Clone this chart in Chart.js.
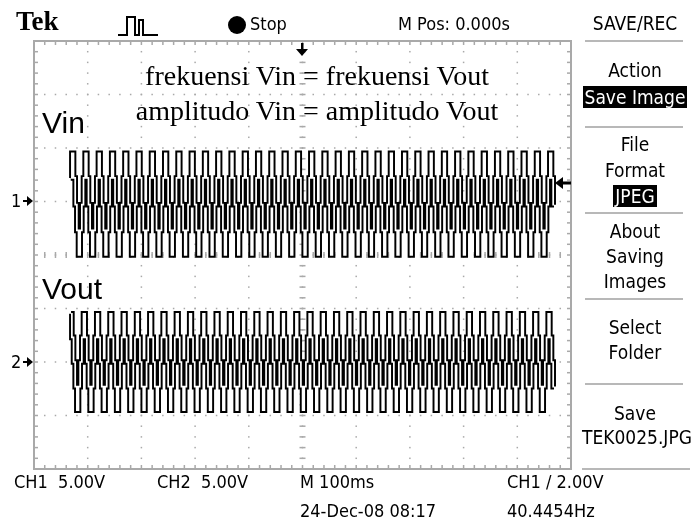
<!DOCTYPE html>
<html>
<head>
<meta charset="utf-8">
<script src="https://cdn.jsdelivr.net/npm/chart.js@4.4.1/dist/chart.umd.min.js"></script>
<style>
    html, body { margin: 0; padding: 0; background: #fff; }
    #scope { position: relative; width: 693px; height: 522px; overflow: hidden; color: #000;
             font-family: "DejaVu Sans Condensed", "Liberation Sans", sans-serif; }
    #scope canvas, #scope svg { position: absolute; left: 0; top: 0; }
    .t { position: absolute; white-space: pre; font-size: 18px; line-height: 22px; }
    .m { position: absolute; left: 582px; width: 106px; text-align: center; font-size: 19px; line-height: 22px; white-space: pre; }
    .inv { display: inline-block; background: #000; color: #fff; padding: 0 2px; }
    .sep { position: absolute; left: 585px; width: 98px; height: 0; border-top: 2px solid #b8b8b8; }
    .note { position: absolute; left: 0; width: 634px; text-align: center; white-space: pre;
            font-family: "Liberation Serif", "Times New Roman", serif; font-size: 28px; line-height: 28px; }
    .lbl { position: absolute; left: 42px; font-family: "Liberation Sans", Arial, sans-serif; font-size: 30px; line-height: 30px; }
</style>
</head>
<body>
<div id="scope">
    <canvas id="scopeChart" width="693" height="522"></canvas>

    <svg width="693" height="522">
        <!-- acquisition icon -->
        <polyline points="118,35 127,35 127,17 135,17 135,35 139,35 139,20 143,20 143,35 158,35"
                  fill="none" stroke="#000" stroke-width="2"/>
        <circle cx="237" cy="25" r="9" fill="#000"/>
        <!-- trigger position marker -->
        <rect x="301" y="43" width="2.5" height="7" fill="#000"/>
        <polygon points="296,49 308,49 302,56" fill="#000"/>
        <!-- trigger level marker -->
        <polygon points="555,183 563,177 563,189" fill="#000"/>
        <rect x="562" y="181.5" width="9" height="3" fill="#000"/>
        <!-- channel ground markers -->
        <rect x="23" y="200" width="9" height="2" fill="#000"/>
        <polygon points="27,196 33,201 27,206" fill="#000"/>
        <rect x="23" y="361" width="9" height="2" fill="#000"/>
        <polygon points="27,357 33,362 27,367" fill="#000"/>
    </svg>

    <div class="t" style="left:16px; top:6px; font-family:'Liberation Serif',serif; font-weight:bold; font-size:27px; line-height:30px;">Tek</div>
    <div class="t" style="left:250px; top:13px;">Stop</div>
    <div class="t" style="left:398px; top:13px;">M Pos: 0.000s</div>

    <div class="note" style="top:62px;">frekuensi Vin = frekuensi Vout</div>
    <div class="note" style="top:97px;">amplitudo Vin = amplitudo Vout</div>
    <div class="lbl" style="top:108px;">Vin</div>
    <div class="lbl" style="top:274px;">Vout</div>

    <div class="t" style="left:11px; top:190px;">1</div>
    <div class="t" style="left:11px; top:351px;">2</div>

    <div class="m" style="top:12px;">SAVE/REC</div>
    <div class="sep" style="top:40px;"></div>
    <div class="m" style="top:59px;">Action</div>
    <div class="m" style="top:86px;"><span class="inv">Save Image</span></div>
    <div class="sep" style="top:126px;"></div>
    <div class="m" style="top:133px;">File</div>
    <div class="m" style="top:159px;">Format</div>
    <div class="m" style="top:185px;"><span class="inv">JPEG</span></div>
    <div class="sep" style="top:212px;"></div>
    <div class="m" style="top:220px;">About</div>
    <div class="m" style="top:245px;">Saving</div>
    <div class="m" style="top:270px;">Images</div>
    <div class="sep" style="top:298px;"></div>
    <div class="m" style="top:316px;">Select</div>
    <div class="m" style="top:341px;">Folder</div>
    <div class="sep" style="top:383px;"></div>
    <div class="m" style="top:402px;">Save</div>
    <div class="m" style="top:426px;">TEK0025.JPG</div>
    <div class="sep" style="top:468px; left:582px; width:108px;"></div>

    <div class="t" style="left:14px; top:471px;">CH1  5.00V</div>
    <div class="t" style="left:157px; top:471px;">CH2  5.00V</div>
    <div class="t" style="left:300px; top:471px;">M 100ms</div>
    <div class="t" style="left:507px; top:471px;">CH1 / 2.00V</div>
    <div class="t" style="left:300px; top:500px;">24-Dec-08 08:17</div>
    <div class="t" style="left:507px; top:500px;">40.4454Hz</div>
</div>

<script>
// --- scope settings ---
const timePerDivMs = 100;        // M 100ms
const voltsPerDiv = 5;           // CH1 5.00V, CH2 5.00V
const signalHz = 40.4454;
const ch1GroundDiv = 1;          // "1" marker
const ch2GroundDiv = -2;         // "2" marker
const traceStartMs = -431;
const traceEndMs = 470;

// one cycle of the stepped waveform, in volts (8 steps per cycle)
const vinCycle = [4.5, 2.2, -0.3, -2.7, -5.0, -2.7, -0.3, 2.2];
const voutCycle = [4.5, 2.3, 0.0, -2.3, -4.5, -2.3, 0.0, 2.3];
const vinPhase = 7;
const voutPhase = 0;

const gridColor = '#a9a9a9';

document.addEventListener('DOMContentLoaded', function () {

    const stepMs = 1000 / signalHz / vinCycle.length;
    const sampleCount = Math.floor((traceEndMs - traceStartMs) / stepMs) + 1;

    const buildTrace = (cycle, phase, groundDiv) => {
        const pts = [];
        for (let i = 0; i < sampleCount; i++) {
            pts.push({
                x: traceStartMs + i * stepMs,
                y: groundDiv + cycle[(i + phase) % cycle.length] / voltsPerDiv
            });
        }
        return pts;
    };

    const vinTrace = buildTrace(vinCycle, vinPhase, ch1GroundDiv);
    const voutTrace = buildTrace(voutCycle, voutPhase, ch2GroundDiv);

    // --- graticule: dotted divisions, center ticks, border ticks ---
    const graticule = {
        id: 'graticule',
        beforeDatasetsDraw(chart) {
            const { ctx, chartArea: a, scales: { x, y } } = chart;
            ctx.save();
            ctx.fillStyle = gridColor;

            const minorX = [];
            for (let v = -5 * timePerDivMs; v <= 5 * timePerDivMs + 0.01; v += timePerDivMs / 5) minorX.push(v);
            const minorY = [];
            for (let v = -4; v <= 4.001; v += 0.2) minorY.push(v);

            // dots on every division line
            for (let k = -4; k <= 4; k++) {
                const px = x.getPixelForValue(k * timePerDivMs);
                minorY.forEach(v => ctx.fillRect(px - 0.75, y.getPixelForValue(v) - 0.75, 1.5, 1.5));
            }
            for (let k = -3; k <= 3; k++) {
                const py = y.getPixelForValue(k);
                minorX.forEach(v => ctx.fillRect(x.getPixelForValue(v) - 0.75, py - 0.75, 1.5, 1.5));
            }

            // center crosshair ticks
            const cx = x.getPixelForValue(0);
            const cy = y.getPixelForValue(0);
            minorY.forEach(v => ctx.fillRect(cx - 3, y.getPixelForValue(v) - 0.75, 6, 1.5));
            minorX.forEach(v => ctx.fillRect(x.getPixelForValue(v) - 0.75, cy - 3, 1.5, 6));

            // border ticks
            minorX.forEach(v => {
                const px = x.getPixelForValue(v);
                ctx.fillRect(px - 0.75, a.top, 1.5, 4);
                ctx.fillRect(px - 0.75, a.bottom - 4, 1.5, 4);
            });
            minorY.forEach(v => {
                const py = y.getPixelForValue(v);
                ctx.fillRect(a.left, py - 0.75, 4, 1.5);
                ctx.fillRect(a.right - 4, py - 0.75, 4, 1.5);
            });

            ctx.strokeStyle = gridColor;
            ctx.lineWidth = 2;
            ctx.strokeRect(a.left, a.top, a.right - a.left, a.bottom - a.top);
            ctx.restore();
        }
    };

    const traceStyle = (data, color, width, order) => ({
        data: data,
        borderColor: color,
        borderWidth: width,
        pointRadius: 0,
        stepped: 'middle',
        fill: false,
        borderJoinStyle: 'miter',
        order: order
    });

    new Chart(document.getElementById('scopeChart'), {
        type: 'line',
        data: {
            datasets: [
                { label: 'Vin', ...traceStyle(vinTrace, '#000', 5.6, 2) },
                { label: 'Vout', ...traceStyle(voutTrace, '#000', 5.6, 2) },
                { label: 'Vin core', ...traceStyle(vinTrace, '#fff', 1.7, 1) },
                { label: 'Vout core', ...traceStyle(voutTrace, '#fff', 1.7, 1) }
            ]
        },
        options: {
            responsive: false,
            animation: false,
            events: [],
            layout: { padding: { left: 34, right: 122, top: 41, bottom: 53 } },
            plugins: { legend: { display: false }, tooltip: { enabled: false } },
            scales: {
                x: { type: 'linear', min: -5 * timePerDivMs, max: 5 * timePerDivMs, display: false },
                y: { type: 'linear', min: -4, max: 4, display: false }
            }
        },
        plugins: [graticule]
    });
});
</script>
</body>
</html>
